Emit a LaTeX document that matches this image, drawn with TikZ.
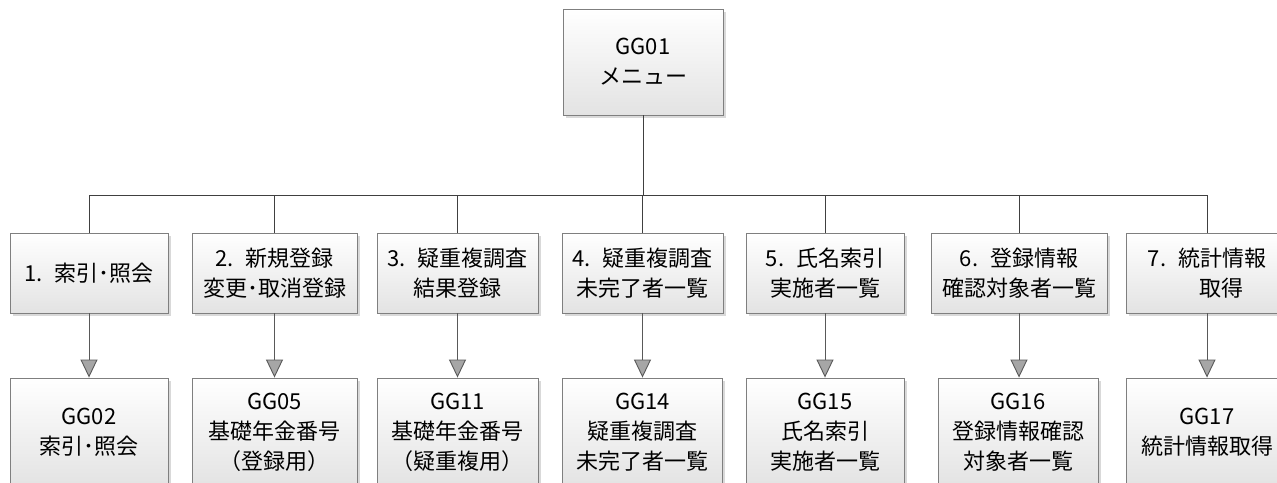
\documentclass[tikz,border=0pt]{standalone}
\usepackage{fontspec}
\setmainfont{Noto Sans CJK JP}
\usetikzlibrary{arrows.meta,shadows}
\definecolor{edgegray}{HTML}{7F7F7F}
\definecolor{conngray}{HTML}{404040}
\definecolor{arrowfill}{HTML}{A6A6A6}
\newcommand{\nsp}{\hspace{0.55em}}
\tikzset{
  box/.style={draw=edgegray, line width=0.9pt, top color=white, bottom color=black!11,
    align=center, inner sep=0pt, font=\fontsize{22}{30}\selectfont, text=black,
    drop shadow={shadow xshift=2.5pt, shadow yshift=-2.5pt, fill=black, opacity=0.15}},
  rowone/.style={box, minimum height=80pt},
  rowtwo/.style={box, minimum height=108pt},
  conn/.style={draw=conngray, line width=0.9pt},
  arr/.style={draw=edgegray!70!black, line width=0.9pt,
    -{Triangle[width=17pt,length=18pt,fill=arrowfill]}},
}
\begin{document}
\begin{tikzpicture}[x=1pt,y=-1pt]
\path[use as bounding box] (0,0) rectangle (1277,482);
\clip (0,0) rectangle (1277,482);
\fill[white] (0,0) rectangle (1277,482);

% top
\node[box, minimum width=160pt, minimum height=106pt] (top) at (643,62) {GG01\\メニュー};

% row 1
\node[rowone, minimum width=158pt] (b1) at (89,273) {1.\nsp 索引･照会};
\node[rowone, minimum width=165pt] (b2) at (274.5,273) {2.\nsp 新規登録\\変更･取消登録};
\node[rowone, minimum width=161pt] (b3) at (457.5,273) {3.\nsp 疑重複調査\\結果登録};
\node[rowone, minimum width=161pt] (b4) at (642.5,273) {4.\nsp 疑重複調査\\未完了者一覧};
\node[rowone, minimum width=158pt] (b5) at (825,273) {5.\nsp 氏名索引\\実施者一覧};
\node[rowone, minimum width=176pt] (b6) at (1019,273) {6.\nsp 登録情報\\確認対象者一覧};
\node[rowone, minimum width=162pt] (b7) at (1207,273) {7.\nsp 統計情報\\\hspace*{1.3em}取得};

% row 2
\node[rowtwo, minimum width=158pt] (g1) at (89,432) {GG02\\索引･照会};
\node[rowtwo, minimum width=165pt] (g2) at (274.5,432) {GG05\\基礎年金番号\\（登録用）};
\node[rowtwo, minimum width=161pt] (g3) at (457.5,432) {GG11\\基礎年金番号\\（疑重複用）};
\node[rowtwo, minimum width=160pt] (g4) at (642.5,432) {GG14\\疑重複調査\\未完了者一覧};
\node[rowtwo, minimum width=158pt] (g5) at (825,432) {GG15\\氏名索引\\実施者一覧};
\node[rowtwo, minimum width=160pt] (g6) at (1018,432) {GG16\\登録情報確認\\対象者一覧};
\node[rowtwo, minimum width=162pt] (g7) at (1207,432) {GG17\\統計情報取得};

% bus
\coordinate (bus) at (643,195);
\draw[conn] (top.south) -- (bus);
\draw[conn] (b1.north) -- (b1.north |- bus) -- (b7.north |- bus) -- (b7.north);
\foreach \i in {2,...,6}{
  \draw[conn] (b\i.north) -- (b\i.north |- bus);
}

% arrows
\foreach \i in {1,...,7}{
  \draw[arr] (b\i.south) -- (b\i.south |- g\i.north);
}
\end{tikzpicture}
\end{document}
